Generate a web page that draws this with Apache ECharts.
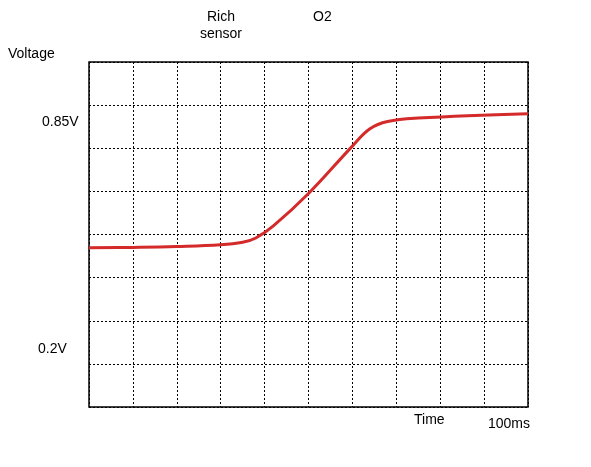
<!DOCTYPE html>
<html><head><meta charset="utf-8">
<script src="https://cdn.jsdelivr.net/npm/echarts@6/dist/echarts.min.js"></script>
<style>html,body{margin:0;background:#fff}#c{width:591px;height:467px}</style>
</head><body><div id="c"></div>
<script>
const timeDiv = [0, 1, 2, 3, 3.5, 3.8, 4.2, 5, 6, 6.4, 6.8, 7.5, 10];
const voltDiv = [3.69, 3.70, 3.72, 3.76, 3.82, 3.92, 4.2, 4.95, 6.05, 6.45, 6.62, 6.7, 6.8];
const labels = [
  {text: 'Voltage', x: 8, y: 47},
  {text: 'Rich', x: 207, y: 10},
  {text: 'sensor', x: 200, y: 27},
  {text: 'O2', x: 313, y: 10},
  {text: '0.85V', x: 42, y: 115},
  {text: '0.2V', x: 38, y: 342},
  {text: 'Time', x: 414, y: 413},
  {text: '100ms', x: 488, y: 417}
];
const chart = echarts.init(document.getElementById('c'));
chart.setOption({
  animation: false,
  grid: {left: 89, right: 63, top: 62, bottom: 60, show: true, borderColor: '#000', borderWidth: 1.5},
  xAxis: {type: 'value', min: 0, max: 10, interval: 1, axisLine: {show: false}, axisTick: {show: false}, axisLabel: {show: false},
    splitLine: {lineStyle: {color: '#000', type: [2, 2], width: 1}}},
  yAxis: {type: 'value', min: 0, max: 8, interval: 1, axisLine: {show: false}, axisTick: {show: false}, axisLabel: {show: false},
    splitLine: {lineStyle: {color: '#000', type: [2, 2], width: 1}}},
  series: [{type: 'line', smooth: 0.4, symbol: 'none', data: timeDiv.map((t, i) => [t, voltDiv[i]]),
    lineStyle: {color: '#d42a2a', width: 3}}],
  graphic: labels.map(l => ({type: 'text', left: l.x, top: l.y,
    style: {text: l.text, fill: '#000', font: '14px Arial, "Liberation Sans", sans-serif'}}))
});
</script></body></html>
